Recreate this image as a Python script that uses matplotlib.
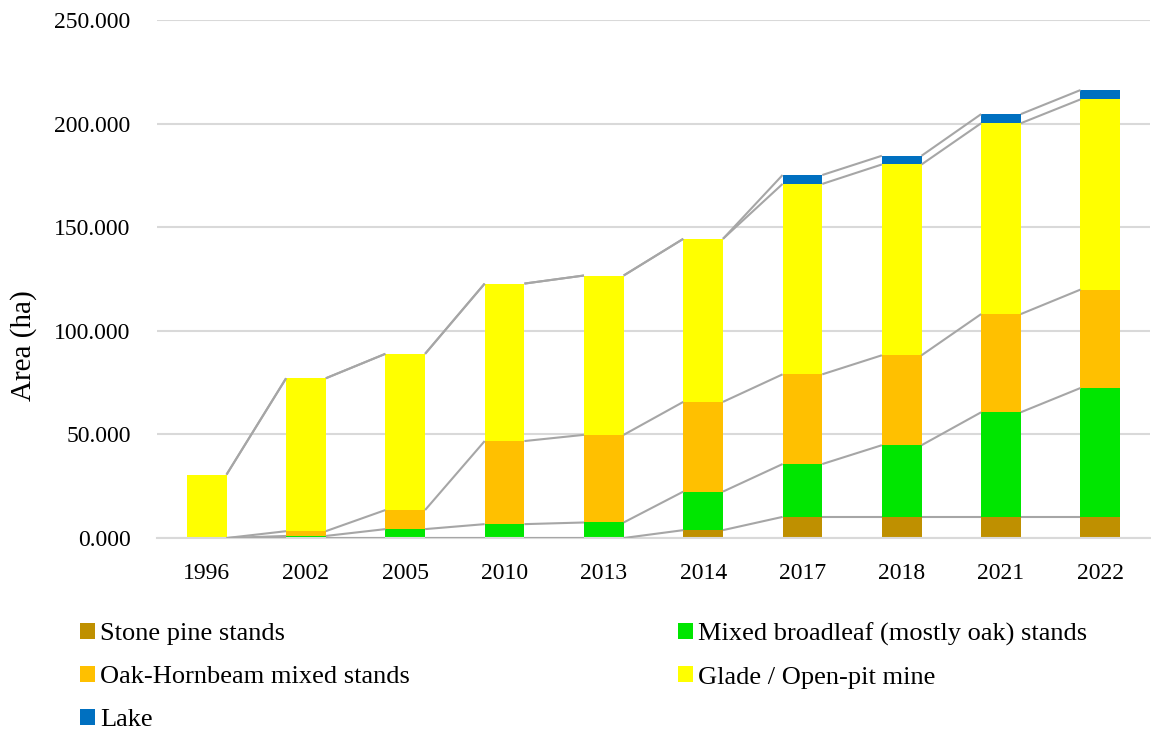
import numpy as np
from matplotlib import pyplot as plt
from matplotlib.patches import Patch
from matplotlib.ticker import FuncFormatter

years = ["1996", "2002", "2005", "2010", "2013", "2014", "2017", "2018", "2021", "2022"]

# area per class, stacked bottom to top
stone_pine = [0, 0, 0, 0, 0, 3.8, 10.2, 10.2, 10.2, 10.2]
mixed_broadleaf = [0, 1.0, 4.3, 6.7, 7.5, 18.6, 25.5, 34.6, 50.5, 62.2]
oak_hornbeam = [0, 2.3, 9.2, 40.1, 42.3, 43.3, 43.3, 43.4, 47.4, 47.5]
glade_mine = [30.6, 73.8, 75.4, 76.0, 76.9, 78.7, 91.9, 92.1, 92.1, 91.8]
lake = [0, 0, 0, 0, 0, 0, 4.3, 4.2, 4.4, 4.5]

series = [
    ("Stone pine stands", stone_pine, "#BF9000"),
    ("Mixed broadleaf (mostly oak) stands", mixed_broadleaf, "#00E600"),
    ("Oak-Hornbeam mixed stands", oak_hornbeam, "#FFC000"),
    ("Glade / Open-pit mine", glade_mine, "#FFFF00"),
    ("Lake", lake, "#0070C0"),
]

plt.rcParams["font.family"] = "Liberation Serif"
plt.rcParams["font.size"] = 17

fig = plt.figure(figsize=(11.51, 7.34), dpi=100)
ax = fig.add_axes([0.1364, 0.267, 0.8627, 0.7057])

x = np.arange(len(years))
width = 0.4
line_color = "#a6a6a6"

bottom = np.zeros(len(years))
handles = []
for name, vals, color in series:
    vals = np.array(vals, dtype=float)
    ax.bar(x, vals, width, bottom=bottom, color=color, zorder=2)
    bottom = bottom + vals
    # series lines between neighbouring bars (Excel style)
    for i in range(len(years) - 1):
        ax.plot([x[i] + width / 2, x[i + 1] - width / 2], [bottom[i], bottom[i + 1]],
                color=line_color, lw=1.5, zorder=3, solid_capstyle="butt")
    handles.append(Patch(facecolor=color, label=name))

ax.set_xlim(-0.5, len(years) - 0.5)
ax.set_ylim(0, 250)
ax.set_yticks(np.arange(0, 251, 50))
ax.yaxis.set_major_formatter(FuncFormatter(lambda v, p: f"{v:.3f}"))
ax.set_xticks(x)
ax.set_xticklabels(years)
ax.grid(axis="y", color="#d9d9d9", lw=1.5, zorder=0)
ax.set_axisbelow(True)
for s in ["top", "right", "left"]:
    ax.spines[s].set_visible(False)
ax.spines["bottom"].set_color("#d9d9d9")
ax.spines["bottom"].set_linewidth(1.5)
ax.tick_params(axis="both", length=0, colors="black")
ax.tick_params(axis="y", pad=19)
ax.tick_params(axis="x", pad=18)
ax.set_ylabel("Area (ha)", fontsize=21)
ax.yaxis.set_label_coords(-0.121, 0.371)

leg_kw = dict(frameon=False, handlelength=0.57, handleheight=0.57, handletextpad=0.19,
              labelspacing=0.77, borderpad=0, borderaxespad=0, loc="center left",
              fontsize=19)
fig.legend(handles=[handles[0], handles[2], handles[4]], bbox_to_anchor=(0.0695, 0.0777), **leg_kw)
fig.legend(handles=[handles[1], handles[3]], bbox_to_anchor=(0.589, 0.107), **leg_kw)

plt.savefig("out.png", dpi=100)
